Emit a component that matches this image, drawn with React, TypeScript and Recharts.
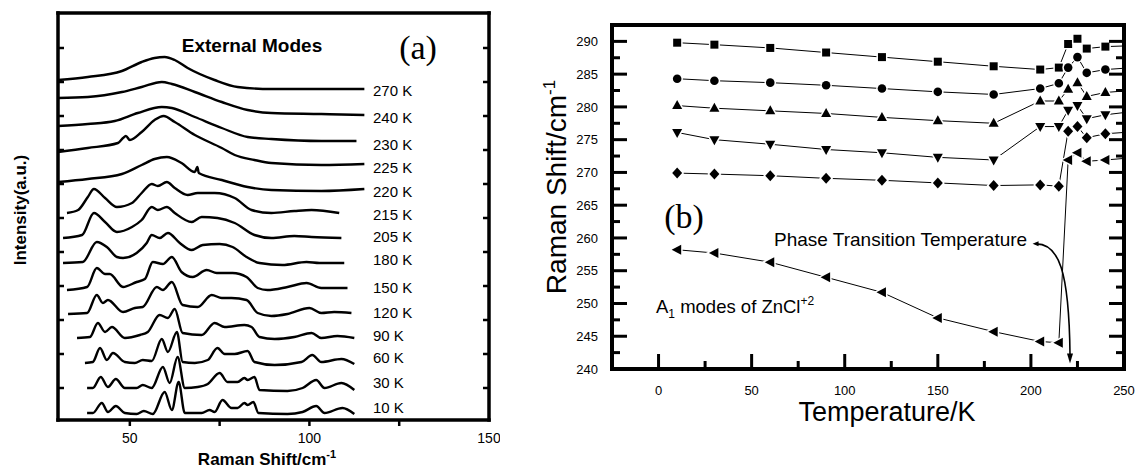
import React from "react";
import { LineChart, Line, XAxis, YAxis, ReferenceDot } from "recharts";

const SANS = '"Liberation Sans", Arial, Helvetica, sans-serif';
const SERIF = '"Liberation Serif", "Times New Roman", serif';

// ---------- (a) external modes: [Raman shift cm-1, stacked intensity a.u.]
const s270 = [[30, 340], [38.3, 343], [47.8, 349], [53.3, 358], [56.9, 362], [59.7, 363], [62.5, 360], [66.1, 352], [73.6, 340], [80, 333], [89.4, 331], [103.3, 331], [115.3, 331]];
const s240 = [[30, 322], [38.3, 323], [47.8, 328], [53.3, 333], [58.9, 338], [61.7, 336], [68.1, 328], [75.6, 318], [82.8, 310], [89.4, 307], [103.3, 306], [115.3, 305]];
const s230 = [[30, 294], [38.3, 296], [45.8, 299], [52.2, 307], [58.9, 313], [61.7, 312], [68.1, 303], [75.6, 292], [82.8, 283], [89.4, 281], [103.3, 279], [113.1, 279]];
const s225 = [[30, 268], [38.3, 272], [46.7, 277], [48.1, 282], [48.9, 284], [50, 280], [53.3, 288], [56.9, 300], [59.4, 304], [62.5, 298], [68.1, 285], [75.6, 272], [79.2, 265], [84.7, 260], [89.4, 257], [103.3, 255], [115.3, 256]];
const s220 = [[30, 238], [38.3, 241], [47.8, 246], [53.3, 255], [56.9, 261], [60.3, 263], [64.4, 257], [68.1, 248], [68.8, 253], [69.2, 247], [75.6, 240], [82.8, 233], [89.4, 230], [103.3, 229], [115.3, 231]];
const s215 = [[32.5, 207], [35.6, 210], [38.3, 223], [40, 231], [43.1, 222], [46.4, 213], [50.6, 217], [53.3, 227], [56.1, 236], [57.8, 234], [60.3, 238], [62.5, 232], [66.1, 225], [68.9, 227], [73.6, 227], [79.2, 222], [83.9, 210], [89.4, 207], [95.8, 209], [100.6, 210], [108.3, 207]];
const s205 = [[31.4, 182], [36.7, 185], [40, 207], [43.1, 198], [46.4, 188], [50.6, 193], [53.3, 200], [56.1, 213], [57.8, 210], [60.3, 213], [62.5, 207], [67.2, 198], [70, 203], [74.4, 202], [79.2, 197], [84.7, 185], [89.4, 182], [95.8, 184], [100.6, 183], [108.9, 182]];
const s180 = [[31.4, 157], [36.9, 158], [40.8, 178], [43.6, 173], [46.4, 163], [48.1, 162], [51.9, 167], [54.7, 177], [56.1, 185], [58.3, 182], [60.6, 187], [63.9, 177], [67.2, 170], [70.3, 175], [75, 176], [78.6, 173], [82.5, 163], [86.1, 157], [92.5, 155], [99.2, 158], [102.8, 157], [109.7, 157]];
const s150 = [[32.5, 130], [38.1, 133], [40.8, 152], [43.1, 146], [44.4, 146], [48.1, 133], [51.9, 138], [54.2, 141], [56.4, 158], [59.2, 156], [61.7, 163], [64.4, 148], [67.5, 143], [71.4, 150], [74.2, 147], [78.6, 147], [82.5, 143], [85.6, 132], [88.3, 130], [93.9, 133], [99.2, 137], [103.3, 132], [110.6, 132]];
const s120 = [[32.8, 106], [38.1, 107], [40.8, 125], [42.5, 117], [43.9, 120], [48.1, 108], [51.4, 112], [53.6, 113], [57.5, 133], [59.2, 130], [61.7, 138], [64.7, 115], [68.9, 113], [72.8, 125], [75.6, 122], [78.3, 122], [82.5, 120], [85.6, 107], [89.4, 104], [93.9, 106], [100, 112], [103.3, 107], [106.9, 108], [111.7, 107]];
const s90 = [[35.3, 82], [38.9, 83], [41.1, 97], [43.1, 88], [45, 93], [48.6, 82], [52.8, 85], [55, 88], [58.3, 105], [60.6, 102], [62.5, 111], [64.7, 87], [70, 85], [73.6, 97], [76.4, 93], [81.9, 95], [83.9, 93], [86.1, 83], [90.3, 81], [95.8, 83], [100.6, 87], [103.3, 82], [107.8, 84], [112.5, 82]];
const s60 = [[37.5, 57], [39.7, 58], [41.7, 72], [43.6, 60], [45.3, 67], [48.6, 58], [51.4, 57], [53.6, 60], [56.1, 59], [58.9, 81], [60.6, 68], [63.1, 88], [64.7, 58], [68.1, 57], [71.7, 60], [74.4, 72], [76.4, 66], [79.2, 66], [82.8, 69], [84.7, 58], [90.3, 55], [97.8, 58], [100.8, 65], [103.3, 58], [108.9, 61], [112.5, 56]];
const s30 = [[38.1, 32], [39.7, 32], [41.9, 43], [43.9, 33], [46.1, 41], [48.6, 32], [51.9, 32], [53.6, 35], [56.1, 32], [59.2, 53], [61.1, 37], [63.3, 63], [65.3, 32], [68.9, 33], [71.7, 36], [75, 47], [77.2, 38], [80, 38], [81.9, 42], [82.8, 40], [84.7, 43], [86.1, 30], [93.9, 29], [98.1, 32], [101.9, 40], [104.2, 32], [108.9, 37], [112.5, 30]];
const s10 = [[38.1, 7], [39.7, 7], [42.2, 17], [43.9, 8], [46.1, 14], [48.6, 7], [51.9, 6], [53.9, 9], [56.4, 6], [59.7, 28], [61.7, 10], [63.6, 38], [65.3, 7], [70, 7], [72.2, 10], [73.6, 8], [75.8, 20], [78.3, 12], [80, 12], [81.9, 17], [82.8, 15], [84.4, 18], [85.8, 7], [93.9, 6], [98.1, 8], [101.9, 14], [104.2, 7], [109.2, 12], [112.5, 6]];

const spectra = [s270, s240, s230, s225, s220, s215, s205, s180, s150, s120, s90, s60, s30, s10];
const spectraTemps = ["270 K", "240 K", "230 K", "225 K", "220 K", "215 K", "205 K", "180 K", "150 K", "120 K", "90 K", "60 K", "30 K", "10 K"];
const tagLevels = [329, 302, 275, 252, 228, 205, 183, 160, 132, 107, 84, 62, 37, 12];
const tagShift = 117.7;

const shiftTicks = [50, 75, 100, 125, 150];
const shiftTopTicks = [50, 75, 100, 125];
const intensityTicks = [32, 66, 100, 134, 168, 202, 236, 270, 304, 338, 372];

// ---------- (b) mode frequencies (cm-1) vs temperature (K)
const temps = [10, 30, 60, 90, 120, 150, 180, 205, 215, 220, 225, 230, 240, 270];
const modeSquare = [289.8, 289.5, 289.0, 288.3, 287.6, 286.9, 286.2, 285.7, 286.0, 289.6, 290.4, 288.9, 289.2, 289.5];
const modeCircle = [284.3, 284.0, 283.7, 283.3, 282.8, 282.3, 281.9, 282.8, 283.6, 286.0, 287.6, 285.2, 285.7, 286.3];
const modeUp = [280.2, 279.8, 279.4, 279.0, 278.4, 277.9, 277.5, 280.9, 280.9, 282.7, 283.7, 281.6, 282.2, 282.9];
const modeDown = [276.1, 275.0, 274.3, 273.5, 273.0, 272.3, 271.9, 277.0, 277.0, 279.5, 280.2, 278.2, 278.8, 279.8];
const modeDiamond = [269.9, 269.75, 269.5, 269.1, 268.8, 268.4, 268.0, 268.1, 267.9, 276.3, 277.0, 275.3, 275.9, 276.5];
const modeA1 = [258.2, 257.7, 256.3, 254.0, 251.7, 247.8, 245.7, 244.2, 244.0, 271.9, 273.0, 271.7, 271.9, 272.6];

const tempTicks = [0, 25, 50, 75, 100, 125, 150, 175, 200, 225, 250];
const tempTopTicks = [0, 25, 50, 75, 100, 125, 150, 175, 200, 225];
const shiftAxisTicks = [240, 242.5, 245, 247.5, 250, 252.5, 255, 257.5, 260, 262.5, 265, 267.5, 270, 272.5, 275, 277.5, 280, 282.5, 285, 287.5, 290];

const modeTable = temps.map((t, i) => ({
  t,
  sq: modeSquare[i],
  ci: modeCircle[i],
  up: modeUp[i],
  dn: modeDown[i],
  di: modeDiamond[i],
  a1: modeA1[i],
}));

// inward/outward tick marks with optional labels
type TickOpts = {
  axis: "x" | "y";
  dir: number;
  len: (v: number) => number;
  width: number;
  label?: (v: number) => string | null;
  fontSize?: number;
  gap?: number;
};

const makeTick = (o: TickOpts) => (p: any) => {
  const v = p.payload.value;
  const L = o.len(v);
  const lab = o.label ? o.label(v) : null;
  const fs = o.fontSize ?? 13;
  const gap = o.gap ?? 0;
  if (o.axis === "x") {
    return (
      <g>
        {L > 0 && <line x1={p.x} x2={p.x} y1={p.y} y2={p.y + o.dir * L} stroke="#000" strokeWidth={o.width} />}
        {lab && (
          <text x={p.x} y={p.y + gap} textAnchor="middle" fontFamily={SANS} fontSize={fs} fill="#000">
            {lab}
          </text>
        )}
      </g>
    );
  }
  return (
    <g>
      {L > 0 && <line x1={p.x} x2={p.x + o.dir * L} y1={p.y} y2={p.y} stroke="#000" strokeWidth={o.width} />}
      {lab && (
        <text x={p.x - gap} y={p.y + fs * 0.36} textAnchor="end" fontFamily={SANS} fontSize={fs} fill="#000">
          {lab}
        </text>
      )}
    </g>
  );
};

const markerPath = (kind: string, x: number, y: number) => {
  switch (kind) {
    case "square":
      return `M${x - 4},${y - 4}h8v8h-8z`;
    case "up":
      return `M${x},${y - 5.5}L${x + 5},${y + 3.5}L${x - 5},${y + 3.5}z`;
    case "down":
      return `M${x},${y + 5.5}L${x + 5},${y - 3.5}L${x - 5},${y - 3.5}z`;
    case "diamond":
      return `M${x},${y - 5.5}L${x + 5},${y}L${x},${y + 5.5}L${x - 5},${y}z`;
    case "left":
      return `M${x - 5.5},${y}L${x + 4},${y - 5}L${x + 4},${y + 5}z`;
    default:
      return `M${x - 4.3},${y}a4.3,4.3 0 1,0 8.6,0a4.3,4.3 0 1,0 -8.6,0`;
  }
};

const makeDot = (kind: string) => (p: any) => {
  const { cx, cy, index } = p;
  if (cx == null || cy == null || isNaN(cx) || isNaN(cy)) return <g key={`${kind}-${index}`} />;
  return (
    <path
      key={`${kind}-${index}`}
      d={markerPath(kind, cx, cy)}
      fill="#000"
      stroke="#fff"
      strokeWidth={3}
      style={{ paintOrder: "stroke" }}
    />
  );
};

const frame = { stroke: "#000", strokeWidth: 3.5, strokeLinecap: "square" as const };
const frameB = { stroke: "#000", strokeWidth: 4, strokeLinecap: "square" as const };

// plot-area mapping for the annotations of panel (b)
const bx = (t: number) => 612 + ((t + 25) / 275) * 512;
const by = (s: number) => 369 - ((s - 240) / 52.5) * 344;
const arrowPts = [[202.5, 259.1], [215, 259.2], [220.5, 255], [221, 241.6]];

function SpectraPanel() {
  return (
    <LineChart width={500} height={470} margin={{ top: 12, right: 10, bottom: 0, left: 0 }}>
      <XAxis
        xAxisId="b"
        type="number"
        dataKey="x"
        domain={[30, 150]}
        allowDataOverflow
        ticks={shiftTicks}
        interval={0}
        height={50}
        axisLine={frame}
        tickLine={false}
        tickSize={0}
        tickMargin={0}
        tick={makeTick({ axis: "x", dir: 1, len: (v) => (v === 150 ? 0 : 6), width: 2.5, label: (v) => (v % 50 === 0 ? String(v) : null), fontSize: 14, gap: 23 })}
      />
      <XAxis
        xAxisId="t"
        orientation="top"
        type="number"
        domain={[30, 150]}
        allowDataOverflow
        ticks={shiftTopTicks}
        interval={0}
        height={1}
        axisLine={frame}
        tickLine={false}
        tickSize={0}
        tickMargin={0}
        tick={makeTick({ axis: "x", dir: 1, len: () => 7, width: 2.5 })}
      />
      <YAxis
        yAxisId="l"
        type="number"
        domain={[0, 407]}
        allowDataOverflow
        ticks={intensityTicks}
        interval={0}
        width={58}
        axisLine={frame}
        tickLine={false}
        tickSize={0}
        tickMargin={0}
        tick={makeTick({ axis: "y", dir: 1, len: () => 6, width: 2.5 })}
      />
      <YAxis
        yAxisId="r"
        orientation="right"
        type="number"
        domain={[0, 407]}
        allowDataOverflow
        ticks={intensityTicks}
        interval={0}
        width={1}
        axisLine={frame}
        tickLine={false}
        tickSize={0}
        tickMargin={0}
        tick={makeTick({ axis: "y", dir: -1, len: () => 6, width: 2.5 })}
      />
      {spectra.map((pts, i) => (
        <Line
          key={spectraTemps[i]}
          xAxisId="b"
          yAxisId="l"
          data={pts.map(([x, y]) => ({ x, y }))}
          dataKey="y"
          type="monotone"
          stroke="#000"
          strokeWidth={2.4}
          dot={false}
          activeDot={false}
          isAnimationActive={false}
        />
      ))}
      {spectraTemps.map((t, i) => (
        <ReferenceDot
          key={`tag-${t}`}
          xAxisId="b"
          yAxisId="l"
          x={tagShift}
          y={tagLevels[i]}
          r={0}
          fill="none"
          stroke="none"
          ifOverflow="visible"
          label={{ value: t, position: "right", offset: 0, fill: "#000", fontSize: 15, fontFamily: SANS }}
        />
      ))}
    </LineChart>
  );
}

const series = [
  { key: "sq", kind: "square" },
  { key: "ci", kind: "circle" },
  { key: "up", kind: "up" },
  { key: "dn", kind: "down" },
  { key: "di", kind: "diamond" },
  { key: "a1", kind: "left" },
];

function ModesPanel() {
  const yLen = (v: number) => (v === 240 ? 0 : v % 5 === 0 ? 15 : 8);
  return (
    <LineChart width={638} height={470} data={modeTable} margin={{ top: 24, right: 13, bottom: 0, left: 0 }}>
      <XAxis
        xAxisId="b"
        type="number"
        dataKey="t"
        domain={[-25, 250]}
        allowDataOverflow
        ticks={tempTicks}
        interval={0}
        height={101}
        axisLine={frameB}
        tickLine={false}
        tickSize={0}
        tickMargin={0}
        tick={makeTick({ axis: "x", dir: -1, len: (v) => (v === 250 ? 0 : v % 50 === 0 ? 15 : 8), width: 3, label: (v) => (v % 50 === 0 ? String(v) : null), fontSize: 13, gap: 26 })}
      />
      <XAxis
        xAxisId="t"
        orientation="top"
        type="number"
        domain={[-25, 250]}
        allowDataOverflow
        ticks={tempTopTicks}
        interval={0}
        height={1}
        axisLine={frameB}
        tickLine={false}
        tickSize={0}
        tickMargin={0}
        tick={makeTick({ axis: "x", dir: 1, len: (v) => (v % 50 === 0 ? 14 : 8), width: 3 })}
      />
      <YAxis
        yAxisId="l"
        type="number"
        domain={[240, 292.5]}
        allowDataOverflow
        ticks={shiftAxisTicks}
        interval={0}
        width={112}
        axisLine={frameB}
        tickLine={false}
        tickSize={0}
        tickMargin={0}
        tick={makeTick({ axis: "y", dir: 1, len: yLen, width: 3, label: (v) => (v % 5 === 0 ? String(v) : null), fontSize: 13, gap: 14 })}
      />
      <YAxis
        yAxisId="r"
        orientation="right"
        type="number"
        domain={[240, 292.5]}
        allowDataOverflow
        ticks={shiftAxisTicks}
        interval={0}
        width={1}
        axisLine={frameB}
        tickLine={false}
        tickSize={0}
        tickMargin={0}
        tick={makeTick({ axis: "y", dir: -1, len: yLen, width: 3 })}
      />
      {series.map((s) => (
        <Line
          key={s.key}
          xAxisId="b"
          yAxisId="l"
          dataKey={s.key}
          type="linear"
          stroke="#000"
          strokeWidth={1}
          dot={makeDot(s.kind)}
          activeDot={false}
          isAnimationActive={false}
        />
      ))}
    </LineChart>
  );
}

function Annotations() {
  const [p0, p1, p2, p3] = arrowPts.map(([t, s]) => [bx(t), by(s)]);
  return (
    <svg width={1138} height={470} style={{ position: "absolute", left: 0, top: 0, pointerEvents: "none" }}>
      <g fill="#000" fontFamily={SANS}>
        <text x={252} y={52} textAnchor="middle" fontWeight="bold" fontSize={19}>External Modes</text>
        <text x={418} y={59} textAnchor="middle" fontFamily={SERIF} fontSize={34}>(a)</text>
        <text transform="translate(26,210) rotate(-90)" textAnchor="middle" fontWeight="bold" fontSize={17}>Intensity(a.u.)</text>
        <text x={267} y={465} textAnchor="middle" fontWeight="bold" fontSize={17}>
          Raman Shift/cm<tspan dy={-7} fontSize={11}>-1</tspan>
        </text>

        <text transform="translate(566,187) rotate(-90)" textAnchor="middle" fontSize={28}>
          Raman Shift/cm<tspan dy={-11} fontSize={17}>-1</tspan>
        </text>
        <text x={887} y={421} textAnchor="middle" fontSize={27}>Temperature/K</text>
        <text x={684} y={228} textAnchor="middle" fontFamily={SERIF} fontSize={34}>(b)</text>
        <text x={774} y={246} fontSize={19}>Phase Transition Temperature</text>
        <text x={656} y={313} fontSize={18.5}>
          A<tspan dy={5} fontSize={12}>1</tspan>
          <tspan dy={-5}> modes of ZnCl</tspan>
          <tspan dy={-8} fontSize={12}>+2</tspan>
        </text>
      </g>
      <path
        d={`M${p0[0]},${p0[1]} C${p1[0]},${p1[1]} ${p2[0]},${p2[1]} ${p3[0]},${p3[1] - 4}`}
        fill="none"
        stroke="#000"
        strokeWidth={1.6}
      />
      <path d={`M${p3[0]},${p3[1] + 5} L${p3[0] - 3},${p3[1] - 5} L${p3[0] + 3},${p3[1] - 5} Z`} fill="#000" />
      <path d={`M${p0[0] - 3},${p0[1]} L${p0[0] + 3},${p0[1] - 2.5} L${p0[0] + 3},${p0[1] + 2.5} Z`} fill="#000" />
    </svg>
  );
}

export default function App() {
  return (
    <div style={{ position: "absolute", left: 0, top: 0, width: 1138, height: 470, background: "#fff" }}>
      <div style={{ position: "absolute", left: 0, top: 0 }}>
        <SpectraPanel />
      </div>
      <div style={{ position: "absolute", left: 500, top: 0 }}>
        <ModesPanel />
      </div>
      <Annotations />
    </div>
  );
}
